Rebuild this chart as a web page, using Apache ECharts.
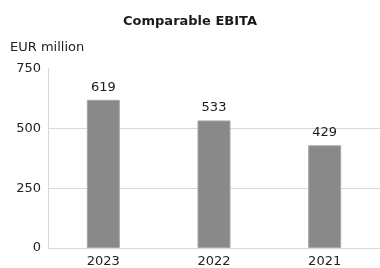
<!DOCTYPE html>
<html>
<head>
<meta charset="utf-8">
<script src="https://cdn.jsdelivr.net/npm/echarts@6/dist/echarts.min.js"></script>
<style>
  html, body { margin: 0; padding: 0; background: #fff; }
  #chart { width: 380px; height: 268px; }
</style>
</head>
<body>
<div id="chart"></div>
<script>
const years = ['2023', '2022', '2021']
const ebita = [619, 533, 429]
const yTicks = [0, 250, 500, 750]

const font = 'DejaVu Sans'
const chart = echarts.init(document.getElementById('chart'))

chart.setOption({
  animation: false,
  title: {
    text: 'Comparable EBITA',
    left: 'center',
    top: 10,
    textStyle: { fontFamily: font, fontSize: 13, fontWeight: 'bold', color: '#1a1a1a' }
  },
  grid: { left: 48, right: 0, top: 68.5, bottom: 18 },
  xAxis: {
    type: 'category',
    data: years,
    axisLine: { lineStyle: { color: '#d9d9d9', width: 1 } },
    axisTick: { show: false },
    axisLabel: { fontFamily: font, fontSize: 13, color: '#222', margin: 7 }
  },
  yAxis: {
    type: 'value',
    min: yTicks[0],
    max: yTicks[yTicks.length - 1],
    interval: 250,
    name: 'EUR million',
    nameLocation: 'end',
    nameGap: 14,
    nameTextStyle: { fontFamily: font, fontSize: 13, color: '#222', align: 'left', padding: [0, 0, 0, -38] },
    axisLine: { show: true, lineStyle: { color: '#d9d9d9' } },
    axisTick: { show: false },
    axisLabel: { fontFamily: font, fontSize: 13, color: '#222', margin: 7 },
    splitLine: { show: true, showMaxLine: false, lineStyle: { color: '#d9d9d9' } }
  },
  series: [{
    type: 'bar',
    data: ebita,
    barWidth: 33,
    itemStyle: { color: '#898989', borderColor: '#a6a6a6', borderWidth: 1 },
    label: { show: true, position: 'top', distance: 6, fontFamily: font, fontSize: 13, color: '#1a1a1a' }
  }]
})
</script>
</body>
</html>
